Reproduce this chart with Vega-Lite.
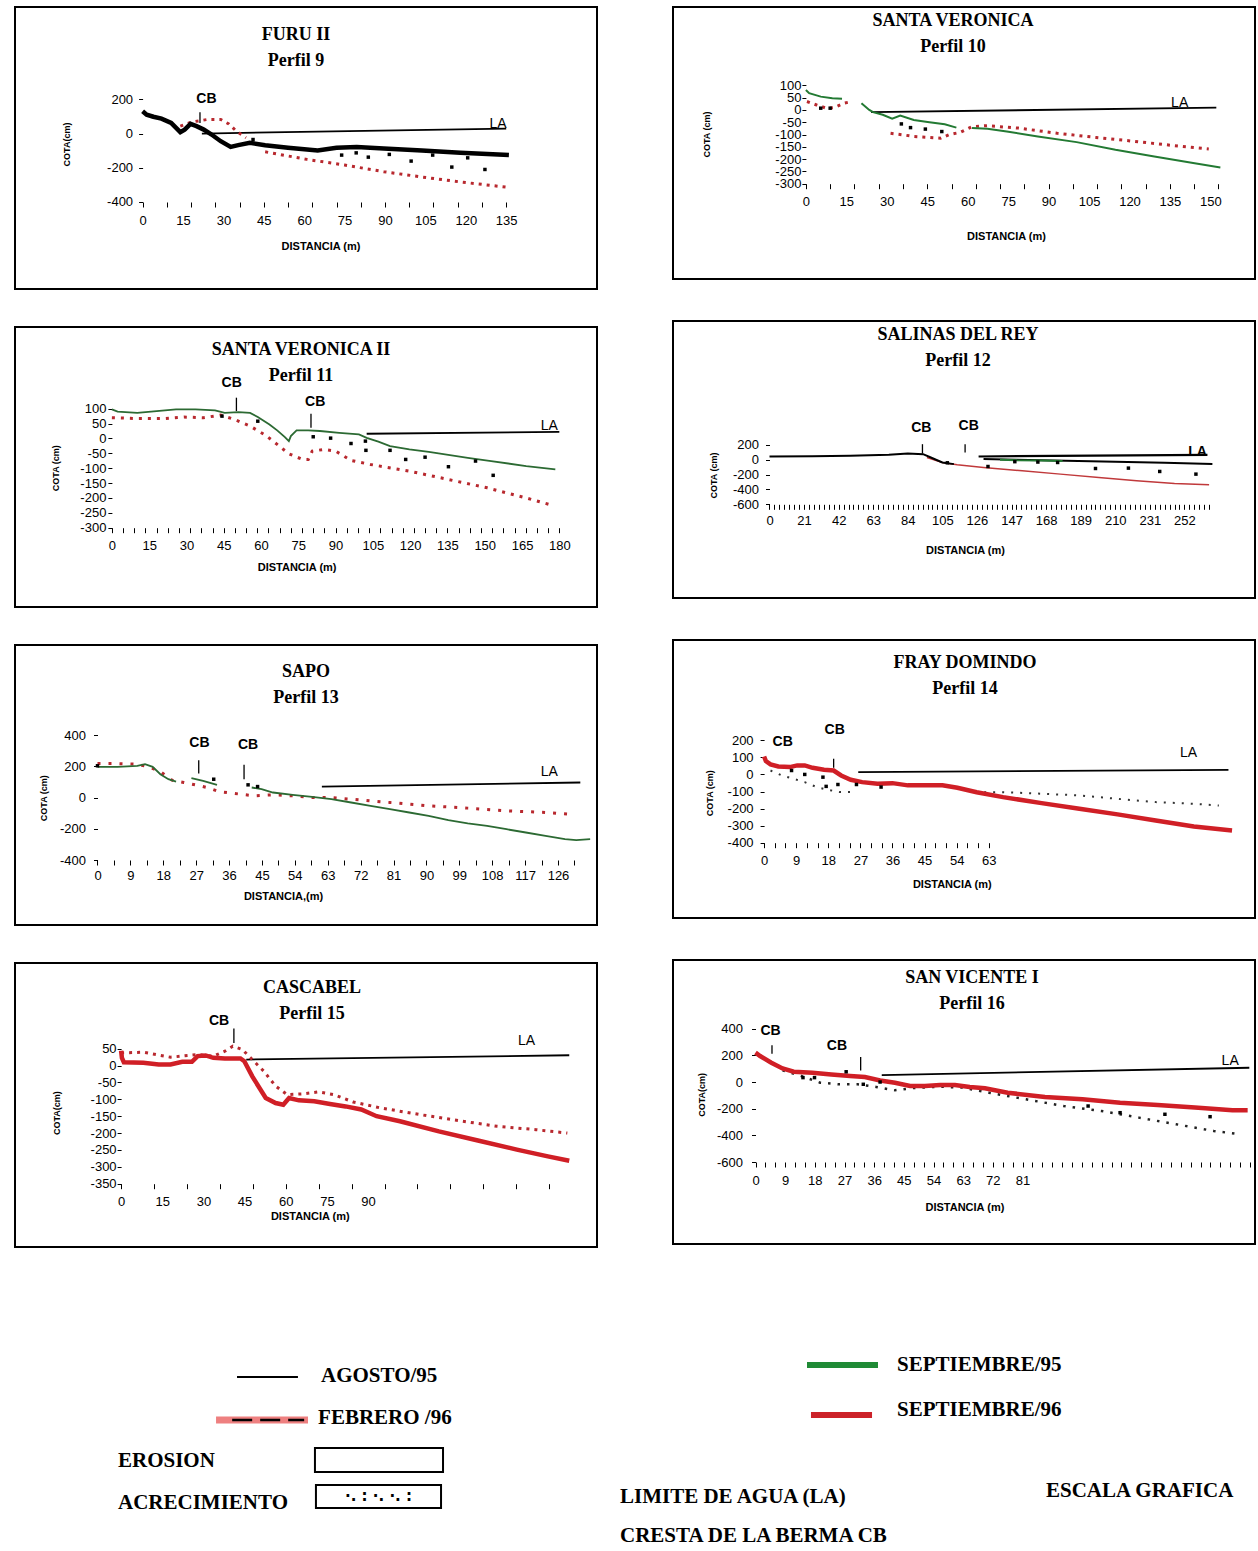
{
"$schema":"https://vega.github.io/schema/vega-lite/v6.json",
"background":"white",
"padding":{"left":14,"top":6,"right":0,"bottom":0},
"config":{
 "view":{"stroke":"black","strokeWidth":2},
 "axis":{"domain":false,"grid":false,"labelFont":"Liberation Sans","labelFontSize":13,"labelColor":"black","tickColor":"black","tickSize":5,"titleFont":"Liberation Sans","titleFontWeight":"bold","titleColor":"black","labelOverlap":false,"labelFlush":false,"labelBound":false,"titleBaseline":"middle","titleAlign":"center"},
 "axisX":{"labelPadding":7,"titleFontSize":11},
 "axisY":{"titleFontSize":9,"tickSize":4},
 "title":{"font":"Liberation Serif","fontSize":18,"fontWeight":"bold","color":"black","subtitleFont":"Liberation Serif","subtitleFontSize":18,"subtitleFontWeight":"bold","subtitleColor":"black","subtitlePadding":8,"anchor":"middle","frame":"group"}
},
"datasets":{
"p9":[
{"serie":"AGOSTO/95","tramo":1,"x":0,"y":130},{"serie":"AGOSTO/95","tramo":1,"x":1.5,"y":110},{"serie":"AGOSTO/95","tramo":1,"x":4,"y":98},{"serie":"AGOSTO/95","tramo":1,"x":7,"y":87},{"serie":"AGOSTO/95","tramo":1,"x":10.6,"y":62},{"serie":"AGOSTO/95","tramo":1,"x":14,"y":8},{"serie":"AGOSTO/95","tramo":1,"x":15.6,"y":23},{"serie":"AGOSTO/95","tramo":1,"x":17.8,"y":56},{"serie":"AGOSTO/95","tramo":1,"x":20,"y":43},{"serie":"AGOSTO/95","tramo":1,"x":22.7,"y":23},{"serie":"AGOSTO/95","tramo":1,"x":25.6,"y":-6},{"serie":"AGOSTO/95","tramo":1,"x":29,"y":-45},{"serie":"AGOSTO/95","tramo":1,"x":32.7,"y":-78},{"serie":"AGOSTO/95","tramo":1,"x":35.5,"y":-68},{"serie":"AGOSTO/95","tramo":1,"x":39.8,"y":-54},{"serie":"AGOSTO/95","tramo":1,"x":45.5,"y":-68},{"serie":"AGOSTO/95","tramo":1,"x":54,"y":-83},{"serie":"AGOSTO/95","tramo":1,"x":65,"y":-99},{"serie":"AGOSTO/95","tramo":1,"x":72,"y":-83},{"serie":"AGOSTO/95","tramo":1,"x":79.5,"y":-78},{"serie":"AGOSTO/95","tramo":1,"x":89.5,"y":-87},{"serie":"AGOSTO/95","tramo":1,"x":103.7,"y":-99},{"serie":"AGOSTO/95","tramo":1,"x":118,"y":-113},{"serie":"AGOSTO/95","tramo":1,"x":136,"y":-126},
{"serie":"FEBRERO/96","tramo":1,"x":14,"y":43},{"serie":"FEBRERO/96","tramo":1,"x":18.5,"y":68},{"serie":"FEBRERO/96","tramo":1,"x":24,"y":82},{"serie":"FEBRERO/96","tramo":1,"x":29,"y":82},{"serie":"FEBRERO/96","tramo":1,"x":32,"y":56},{"serie":"FEBRERO/96","tramo":1,"x":34.8,"y":14},{"serie":"FEBRERO/96","tramo":1,"x":38.4,"y":-25},
{"serie":"FEBRERO/96","tramo":2,"x":45.5,"y":-107},{"serie":"FEBRERO/96","tramo":2,"x":61,"y":-151},{"serie":"FEBRERO/96","tramo":2,"x":75,"y":-184},{"serie":"FEBRERO/96","tramo":2,"x":89.5,"y":-223},{"serie":"FEBRERO/96","tramo":2,"x":103.7,"y":-254},{"serie":"FEBRERO/96","tramo":2,"x":118,"y":-283},{"serie":"FEBRERO/96","tramo":2,"x":135,"y":-313},
{"serie":"ACRECIMIENTO","x":41,"y":-35},{"serie":"ACRECIMIENTO","x":73.9,"y":-126},{"serie":"ACRECIMIENTO","x":79.3,"y":-113},{"serie":"ACRECIMIENTO","x":83.8,"y":-138},{"serie":"ACRECIMIENTO","x":91.6,"y":-122},{"serie":"ACRECIMIENTO","x":99.7,"y":-161},{"serie":"ACRECIMIENTO","x":107.7,"y":-126},{"serie":"ACRECIMIENTO","x":114.8,"y":-196},{"serie":"ACRECIMIENTO","x":120.7,"y":-142},{"serie":"ACRECIMIENTO","x":127.1,"y":-210},
{"serie":"LA","x":22,"y":0},{"serie":"LA","x":135,"y":29},
{"serie":"CB","x":21.3,"y":62,"y2":124},
{"serie":"rotulo","texto":"CB","x":23.7,"y":202},{"serie":"rotulo","texto":"LA","x":132,"y":56}
],
"p10":[
{"serie":"SEPTIEMBRE/95","tramo":1,"x":0,"y":81},{"serie":"SEPTIEMBRE/95","tramo":1,"x":1.2,"y":68},{"serie":"SEPTIEMBRE/95","tramo":1,"x":5.5,"y":54},{"serie":"SEPTIEMBRE/95","tramo":1,"x":9.8,"y":47},{"serie":"SEPTIEMBRE/95","tramo":1,"x":13.4,"y":45},
{"serie":"SEPTIEMBRE/95","tramo":2,"x":20.6,"y":27},{"serie":"SEPTIEMBRE/95","tramo":2,"x":23.5,"y":0},{"serie":"SEPTIEMBRE/95","tramo":2,"x":24.9,"y":-9},{"serie":"SEPTIEMBRE/95","tramo":2,"x":28.5,"y":-20},{"serie":"SEPTIEMBRE/95","tramo":2,"x":32,"y":-36},{"serie":"SEPTIEMBRE/95","tramo":2,"x":35,"y":-23},{"serie":"SEPTIEMBRE/95","tramo":2,"x":40,"y":-41},{"serie":"SEPTIEMBRE/95","tramo":2,"x":45.8,"y":-50},{"serie":"SEPTIEMBRE/95","tramo":2,"x":51.5,"y":-58},{"serie":"SEPTIEMBRE/95","tramo":2,"x":55.8,"y":-72},
{"serie":"SEPTIEMBRE/95","tramo":3,"x":61.6,"y":-74},{"serie":"SEPTIEMBRE/95","tramo":3,"x":67.3,"y":-77},{"serie":"SEPTIEMBRE/95","tramo":3,"x":74.5,"y":-88},{"serie":"SEPTIEMBRE/95","tramo":3,"x":86,"y":-108},{"serie":"SEPTIEMBRE/95","tramo":3,"x":100.4,"y":-131},{"serie":"SEPTIEMBRE/95","tramo":3,"x":114.8,"y":-162},{"serie":"SEPTIEMBRE/95","tramo":3,"x":129.2,"y":-189},{"serie":"SEPTIEMBRE/95","tramo":3,"x":143.6,"y":-216},{"serie":"SEPTIEMBRE/95","tramo":3,"x":153.7,"y":-234},
{"serie":"FEBRERO/96","tramo":1,"x":0.4,"y":34},{"serie":"FEBRERO/96","tramo":1,"x":4,"y":20},{"serie":"FEBRERO/96","tramo":1,"x":7.6,"y":7},{"serie":"FEBRERO/96","tramo":1,"x":10.5,"y":9},{"serie":"FEBRERO/96","tramo":1,"x":14.1,"y":27},{"serie":"FEBRERO/96","tramo":1,"x":17,"y":34},
{"serie":"FEBRERO/96","tramo":2,"x":31.4,"y":-95},{"serie":"FEBRERO/96","tramo":2,"x":35.7,"y":-101},{"serie":"FEBRERO/96","tramo":2,"x":40,"y":-108},{"serie":"FEBRERO/96","tramo":2,"x":45.8,"y":-112},{"serie":"FEBRERO/96","tramo":2,"x":50,"y":-115},{"serie":"FEBRERO/96","tramo":2,"x":53,"y":-101},{"serie":"FEBRERO/96","tramo":2,"x":57.3,"y":-91},{"serie":"FEBRERO/96","tramo":2,"x":61.6,"y":-68},{"serie":"FEBRERO/96","tramo":2,"x":67.3,"y":-64},{"serie":"FEBRERO/96","tramo":2,"x":78.8,"y":-74},{"serie":"FEBRERO/96","tramo":2,"x":93.2,"y":-95},{"serie":"FEBRERO/96","tramo":2,"x":107.6,"y":-112},{"serie":"FEBRERO/96","tramo":2,"x":122,"y":-128},{"serie":"FEBRERO/96","tramo":2,"x":136.4,"y":-145},{"serie":"FEBRERO/96","tramo":2,"x":149.4,"y":-159},
{"serie":"ACRECIMIENTO","x":5.5,"y":7},{"serie":"ACRECIMIENTO","x":9,"y":7},{"serie":"ACRECIMIENTO","x":35.4,"y":-57},{"serie":"ACRECIMIENTO","x":38.8,"y":-72},{"serie":"ACRECIMIENTO","x":44.3,"y":-78},{"serie":"ACRECIMIENTO","x":50.4,"y":-88},
{"serie":"LA","x":24.2,"y":-9},{"serie":"LA","x":152.2,"y":9},
{"serie":"rotulo","texto":"LA","x":138.6,"y":29.7}
],
"p11":[
{"serie":"SEPTIEMBRE/95","tramo":1,"x":0,"y":97.5},{"serie":"SEPTIEMBRE/95","tramo":1,"x":2.3,"y":90},{"serie":"SEPTIEMBRE/95","tramo":1,"x":10.2,"y":86},{"serie":"SEPTIEMBRE/95","tramo":1,"x":18,"y":92},{"serie":"SEPTIEMBRE/95","tramo":1,"x":25.8,"y":97.5},{"serie":"SEPTIEMBRE/95","tramo":1,"x":33.6,"y":97.5},{"serie":"SEPTIEMBRE/95","tramo":1,"x":41.5,"y":94},{"serie":"SEPTIEMBRE/95","tramo":1,"x":45.4,"y":86},{"serie":"SEPTIEMBRE/95","tramo":1,"x":50.9,"y":88.6},{"serie":"SEPTIEMBRE/95","tramo":1,"x":55.6,"y":86},{"serie":"SEPTIEMBRE/95","tramo":1,"x":58.7,"y":72},{"serie":"SEPTIEMBRE/95","tramo":1,"x":63.4,"y":47},{"serie":"SEPTIEMBRE/95","tramo":1,"x":66.5,"y":27},{"serie":"SEPTIEMBRE/95","tramo":1,"x":69.6,"y":4.5},{"serie":"SEPTIEMBRE/95","tramo":1,"x":71.2,"y":-9},{"serie":"SEPTIEMBRE/95","tramo":1,"x":72,"y":8},{"serie":"SEPTIEMBRE/95","tramo":1,"x":74.3,"y":27},{"serie":"SEPTIEMBRE/95","tramo":1,"x":79,"y":27},{"serie":"SEPTIEMBRE/95","tramo":1,"x":83.7,"y":25},{"serie":"SEPTIEMBRE/95","tramo":1,"x":91.5,"y":19},{"serie":"SEPTIEMBRE/95","tramo":1,"x":99.4,"y":13.5},{"serie":"SEPTIEMBRE/95","tramo":1,"x":102.5,"y":2},{"serie":"SEPTIEMBRE/95","tramo":1,"x":107.2,"y":-11},{"serie":"SEPTIEMBRE/95","tramo":1,"x":111.9,"y":-26},{"serie":"SEPTIEMBRE/95","tramo":1,"x":119.7,"y":-37},{"serie":"SEPTIEMBRE/95","tramo":1,"x":127.5,"y":-45},{"serie":"SEPTIEMBRE/95","tramo":1,"x":143.2,"y":-65},{"serie":"SEPTIEMBRE/95","tramo":1,"x":152.6,"y":-76},{"serie":"SEPTIEMBRE/95","tramo":1,"x":166.7,"y":-93},{"serie":"SEPTIEMBRE/95","tramo":1,"x":178.4,"y":-104},
{"serie":"FEBRERO/96","tramo":1,"x":0,"y":69.5},{"serie":"FEBRERO/96","tramo":1,"x":10.2,"y":67},{"serie":"FEBRERO/96","tramo":1,"x":21.1,"y":67},{"serie":"FEBRERO/96","tramo":1,"x":29,"y":72},{"serie":"FEBRERO/96","tramo":1,"x":36.8,"y":69.5},{"serie":"FEBRERO/96","tramo":1,"x":43.8,"y":78.5},{"serie":"FEBRERO/96","tramo":1,"x":49.3,"y":64},{"serie":"FEBRERO/96","tramo":1,"x":55.6,"y":41.5},{"serie":"FEBRERO/96","tramo":1,"x":61.8,"y":11},{"serie":"FEBRERO/96","tramo":1,"x":66.5,"y":-20},{"serie":"FEBRERO/96","tramo":1,"x":71.2,"y":-51.6},{"serie":"FEBRERO/96","tramo":1,"x":76.7,"y":-70.6},{"serie":"FEBRERO/96","tramo":1,"x":79,"y":-70.6},{"serie":"FEBRERO/96","tramo":1,"x":80.6,"y":-42.6},{"serie":"FEBRERO/96","tramo":1,"x":85.3,"y":-37},{"serie":"FEBRERO/96","tramo":1,"x":90,"y":-42.6},{"serie":"FEBRERO/96","tramo":1,"x":96.2,"y":-74},{"serie":"FEBRERO/96","tramo":1,"x":104,"y":-87.4},{"serie":"FEBRERO/96","tramo":1,"x":119.7,"y":-110},{"serie":"FEBRERO/96","tramo":1,"x":135.4,"y":-138},{"serie":"FEBRERO/96","tramo":1,"x":151,"y":-166},{"serie":"FEBRERO/96","tramo":1,"x":166.7,"y":-200},{"serie":"FEBRERO/96","tramo":1,"x":176,"y":-222},
{"serie":"ACRECIMIENTO","x":44.3,"y":75},{"serie":"ACRECIMIENTO","x":58.7,"y":58},{"serie":"ACRECIMIENTO","x":81,"y":5.6},{"serie":"ACRECIMIENTO","x":88,"y":1},{"serie":"ACRECIMIENTO","x":96.2,"y":-17},{"serie":"ACRECIMIENTO","x":102,"y":-9},{"serie":"ACRECIMIENTO","x":102.2,"y":-40},{"serie":"ACRECIMIENTO","x":111.9,"y":-40},{"serie":"ACRECIMIENTO","x":118.2,"y":-70.6},{"serie":"ACRECIMIENTO","x":126,"y":-63},{"serie":"ACRECIMIENTO","x":135.4,"y":-95},{"serie":"ACRECIMIENTO","x":146.3,"y":-76},{"serie":"ACRECIMIENTO","x":153.4,"y":-124},
{"serie":"LA","x":102.5,"y":15.7},{"serie":"LA","x":180,"y":22.4},
{"serie":"CB","x":50.1,"y":92,"y2":137},{"serie":"CB","x":80.1,"y":36,"y2":83},
{"serie":"rotulo","texto":"CB","x":48.2,"y":187},{"serie":"rotulo","texto":"CB","x":81.8,"y":123},{"serie":"rotulo","texto":"LA","x":176,"y":41.5}
],
"p12":[
{"serie":"AGOSTO/95","tramo":1,"x":0,"y":45},{"serie":"AGOSTO/95","tramo":1,"x":26,"y":49},{"serie":"AGOSTO/95","tramo":1,"x":49,"y":54},{"serie":"AGOSTO/95","tramo":1,"x":72.5,"y":67},{"serie":"AGOSTO/95","tramo":1,"x":84,"y":85},{"serie":"AGOSTO/95","tramo":1,"x":93.3,"y":76},{"serie":"AGOSTO/95","tramo":1,"x":98,"y":31},{"serie":"AGOSTO/95","tramo":1,"x":105,"y":-36},{"serie":"AGOSTO/95","tramo":1,"x":112,"y":-58},
{"serie":"AGOSTO/95","tramo":2,"x":130,"y":10},{"serie":"AGOSTO/95","tramo":2,"x":150,"y":0},{"serie":"AGOSTO/95","tramo":2,"x":180,"y":-13},{"serie":"AGOSTO/95","tramo":2,"x":210,"y":-25},{"serie":"AGOSTO/95","tramo":2,"x":240,"y":-40},{"serie":"AGOSTO/95","tramo":2,"x":269,"y":-58},
{"serie":"FEBRERO/96","tramo":1,"x":95.6,"y":31},{"serie":"FEBRERO/96","tramo":1,"x":105,"y":-36},{"serie":"FEBRERO/96","tramo":1,"x":114,"y":-67},{"serie":"FEBRERO/96","tramo":1,"x":130,"y":-103},{"serie":"FEBRERO/96","tramo":1,"x":153.5,"y":-148},{"serie":"FEBRERO/96","tramo":1,"x":176.7,"y":-193},{"serie":"FEBRERO/96","tramo":1,"x":200,"y":-238},{"serie":"FEBRERO/96","tramo":1,"x":223,"y":-283},{"serie":"FEBRERO/96","tramo":1,"x":246,"y":-319},{"serie":"FEBRERO/96","tramo":1,"x":267,"y":-337},
{"serie":"SEPTIEMBRE/95","tramo":1,"x":140,"y":2},{"serie":"SEPTIEMBRE/95","tramo":1,"x":150,"y":-5},{"serie":"SEPTIEMBRE/95","tramo":1,"x":165,"y":-8},{"serie":"SEPTIEMBRE/95","tramo":1,"x":178,"y":-15},
{"serie":"ACRECIMIENTO","x":108,"y":-40},{"serie":"ACRECIMIENTO","x":132.7,"y":-90},{"serie":"ACRECIMIENTO","x":149,"y":-25},{"serie":"ACRECIMIENTO","x":163,"y":-30},{"serie":"ACRECIMIENTO","x":175,"y":-36},{"serie":"ACRECIMIENTO","x":198,"y":-117},{"serie":"ACRECIMIENTO","x":218,"y":-112},{"serie":"ACRECIMIENTO","x":237,"y":-157},{"serie":"ACRECIMIENTO","x":259,"y":-193},
{"serie":"LA","x":127,"y":45},{"serie":"LA","x":266,"y":67},
{"serie":"CB","x":92.9,"y":85,"y2":211},{"serie":"CB","x":118.8,"y":99,"y2":211},
{"serie":"rotulo","texto":"CB","x":92.2,"y":436},{"serie":"rotulo","texto":"CB","x":121,"y":458},{"serie":"rotulo","texto":"LA","x":260,"y":99}
],
"p13":[
{"serie":"SEPTIEMBRE/95","tramo":1,"x":0,"y":196},{"serie":"SEPTIEMBRE/95","tramo":1,"x":5.5,"y":196},{"serie":"SEPTIEMBRE/95","tramo":1,"x":10.9,"y":203},{"serie":"SEPTIEMBRE/95","tramo":1,"x":13,"y":213},{"serie":"SEPTIEMBRE/95","tramo":1,"x":15.1,"y":196},{"serie":"SEPTIEMBRE/95","tramo":1,"x":17.2,"y":149},{"serie":"SEPTIEMBRE/95","tramo":1,"x":19.4,"y":117},{"serie":"SEPTIEMBRE/95","tramo":1,"x":21.5,"y":102},
{"serie":"SEPTIEMBRE/95","tramo":2,"x":25.7,"y":124},{"serie":"SEPTIEMBRE/95","tramo":2,"x":28.9,"y":107},{"serie":"SEPTIEMBRE/95","tramo":2,"x":32.7,"y":81},
{"serie":"SEPTIEMBRE/95","tramo":3,"x":42.2,"y":64},{"serie":"SEPTIEMBRE/95","tramo":3,"x":44.9,"y":53},{"serie":"SEPTIEMBRE/95","tramo":3,"x":48,"y":32},{"serie":"SEPTIEMBRE/95","tramo":3,"x":53.4,"y":17},{"serie":"SEPTIEMBRE/95","tramo":3,"x":58.7,"y":4},{"serie":"SEPTIEMBRE/95","tramo":3,"x":64,"y":-11},{"serie":"SEPTIEMBRE/95","tramo":3,"x":69.4,"y":-32},{"serie":"SEPTIEMBRE/95","tramo":3,"x":74.7,"y":-53},{"serie":"SEPTIEMBRE/95","tramo":3,"x":80,"y":-75},{"serie":"SEPTIEMBRE/95","tramo":3,"x":85.3,"y":-96},{"serie":"SEPTIEMBRE/95","tramo":3,"x":90.6,"y":-117},{"serie":"SEPTIEMBRE/95","tramo":3,"x":96,"y":-145},{"serie":"SEPTIEMBRE/95","tramo":3,"x":101.3,"y":-166},{"serie":"SEPTIEMBRE/95","tramo":3,"x":106.6,"y":-181},{"serie":"SEPTIEMBRE/95","tramo":3,"x":111.9,"y":-203},{"serie":"SEPTIEMBRE/95","tramo":3,"x":117.2,"y":-224},{"serie":"SEPTIEMBRE/95","tramo":3,"x":122.6,"y":-245},{"serie":"SEPTIEMBRE/95","tramo":3,"x":127.9,"y":-267},{"serie":"SEPTIEMBRE/95","tramo":3,"x":131,"y":-273},{"serie":"SEPTIEMBRE/95","tramo":3,"x":134.8,"y":-267},
{"serie":"FEBRERO/96","tramo":1,"x":0,"y":217},{"serie":"FEBRERO/96","tramo":1,"x":5.5,"y":217},{"serie":"FEBRERO/96","tramo":1,"x":10.9,"y":213},{"serie":"FEBRERO/96","tramo":1,"x":14,"y":196},{"serie":"FEBRERO/96","tramo":1,"x":17.2,"y":166},{"serie":"FEBRERO/96","tramo":1,"x":20.4,"y":111},{"serie":"FEBRERO/96","tramo":1,"x":23.6,"y":96},{"serie":"FEBRERO/96","tramo":1,"x":26.8,"y":81},{"serie":"FEBRERO/96","tramo":1,"x":30,"y":64},{"serie":"FEBRERO/96","tramo":1,"x":33.2,"y":38},{"serie":"FEBRERO/96","tramo":1,"x":37.4,"y":26},{"serie":"FEBRERO/96","tramo":1,"x":42.8,"y":11},{"serie":"FEBRERO/96","tramo":1,"x":48,"y":17},{"serie":"FEBRERO/96","tramo":1,"x":53.4,"y":11},{"serie":"FEBRERO/96","tramo":1,"x":58.7,"y":0},{"serie":"FEBRERO/96","tramo":1,"x":64,"y":0},{"serie":"FEBRERO/96","tramo":1,"x":69.4,"y":-11},{"serie":"FEBRERO/96","tramo":1,"x":80,"y":-32},{"serie":"FEBRERO/96","tramo":1,"x":90.6,"y":-53},{"serie":"FEBRERO/96","tramo":1,"x":101.3,"y":-68},{"serie":"FEBRERO/96","tramo":1,"x":111.9,"y":-85},{"serie":"FEBRERO/96","tramo":1,"x":122.6,"y":-96},{"serie":"FEBRERO/96","tramo":1,"x":129,"y":-107},
{"serie":"ACRECIMIENTO","x":0,"y":203},{"serie":"ACRECIMIENTO","x":31.8,"y":117},{"serie":"ACRECIMIENTO","x":41.2,"y":81},{"serie":"ACRECIMIENTO","x":43.8,"y":70},
{"serie":"LA","x":61.4,"y":70},{"serie":"LA","x":132.1,"y":96},
{"serie":"CB","x":27.7,"y":153.5,"y2":239},{"serie":"CB","x":40.1,"y":117,"y2":209},
{"serie":"rotulo","texto":"CB","x":27.9,"y":352},{"serie":"rotulo","texto":"CB","x":41.2,"y":337},{"serie":"rotulo","texto":"LA","x":123.6,"y":166}
],
"p14":[
{"serie":"SEPTIEMBRE/96","tramo":1,"x":0,"y":105},{"serie":"SEPTIEMBRE/96","tramo":1,"x":0.5,"y":78},{"serie":"SEPTIEMBRE/96","tramo":1,"x":1.8,"y":59},{"serie":"SEPTIEMBRE/96","tramo":1,"x":4,"y":47},{"serie":"SEPTIEMBRE/96","tramo":1,"x":7.2,"y":43},{"serie":"SEPTIEMBRE/96","tramo":1,"x":9.3,"y":53},{"serie":"SEPTIEMBRE/96","tramo":1,"x":11.4,"y":53},{"serie":"SEPTIEMBRE/96","tramo":1,"x":13.6,"y":39},{"serie":"SEPTIEMBRE/96","tramo":1,"x":16.8,"y":27},{"serie":"SEPTIEMBRE/96","tramo":1,"x":19.5,"y":23},{"serie":"SEPTIEMBRE/96","tramo":1,"x":21.6,"y":-6},{"serie":"SEPTIEMBRE/96","tramo":1,"x":24.3,"y":-31},{"serie":"SEPTIEMBRE/96","tramo":1,"x":27.5,"y":-45},{"serie":"SEPTIEMBRE/96","tramo":1,"x":31.8,"y":-55},{"serie":"SEPTIEMBRE/96","tramo":1,"x":36,"y":-51},{"serie":"SEPTIEMBRE/96","tramo":1,"x":40.3,"y":-64},{"serie":"SEPTIEMBRE/96","tramo":1,"x":45.7,"y":-64},{"serie":"SEPTIEMBRE/96","tramo":1,"x":50,"y":-64},{"serie":"SEPTIEMBRE/96","tramo":1,"x":54.2,"y":-78},{"serie":"SEPTIEMBRE/96","tramo":1,"x":59.6,"y":-104},{"serie":"SEPTIEMBRE/96","tramo":1,"x":67,"y":-133},{"serie":"SEPTIEMBRE/96","tramo":1,"x":77.8,"y":-168},{"serie":"SEPTIEMBRE/96","tramo":1,"x":88.4,"y":-201},{"serie":"SEPTIEMBRE/96","tramo":1,"x":99.1,"y":-234},{"serie":"SEPTIEMBRE/96","tramo":1,"x":109.8,"y":-270},{"serie":"SEPTIEMBRE/96","tramo":1,"x":120.5,"y":-305},{"serie":"SEPTIEMBRE/96","tramo":1,"x":131.2,"y":-328},
{"serie":"FEBRERO/96","tramo":1,"x":1.8,"y":23},{"serie":"FEBRERO/96","tramo":1,"x":5,"y":-6},{"serie":"FEBRERO/96","tramo":1,"x":11.4,"y":-45},{"serie":"FEBRERO/96","tramo":1,"x":14.7,"y":-74},{"serie":"FEBRERO/96","tramo":1,"x":17.9,"y":-90},{"serie":"FEBRERO/96","tramo":1,"x":21.1,"y":-103},{"serie":"FEBRERO/96","tramo":1,"x":24.3,"y":-103},
{"serie":"FEBRERO/96","tramo":2,"x":61.7,"y":-104},{"serie":"FEBRERO/96","tramo":2,"x":67,"y":-104},{"serie":"FEBRERO/96","tramo":2,"x":77.8,"y":-113},{"serie":"FEBRERO/96","tramo":2,"x":88.4,"y":-123},{"serie":"FEBRERO/96","tramo":2,"x":99.1,"y":-143},{"serie":"FEBRERO/96","tramo":2,"x":109.8,"y":-162},{"serie":"FEBRERO/96","tramo":2,"x":120.5,"y":-172},{"serie":"FEBRERO/96","tramo":2,"x":127.5,"y":-182},
{"serie":"ACRECIMIENTO","x":7.7,"y":23},{"serie":"ACRECIMIENTO","x":11.4,"y":0},{"serie":"ACRECIMIENTO","x":16.5,"y":-16},{"serie":"ACRECIMIENTO","x":17.4,"y":-70},{"serie":"ACRECIMIENTO","x":20.7,"y":-59},{"serie":"ACRECIMIENTO","x":25.9,"y":-59},{"serie":"ACRECIMIENTO","x":32.8,"y":-74},
{"serie":"LA","x":26.4,"y":14},{"serie":"LA","x":130.2,"y":27},
{"serie":"CB","x":19.5,"y":39,"y2":92},
{"serie":"rotulo","texto":"CB","x":5.2,"y":191},{"serie":"rotulo","texto":"CB","x":19.8,"y":258},{"serie":"rotulo","texto":"LA","x":119,"y":125}
],
"p15":[
{"serie":"SEPTIEMBRE/96","tramo":1,"x":0,"y":44},{"serie":"SEPTIEMBRE/96","tramo":1,"x":0.3,"y":23},{"serie":"SEPTIEMBRE/96","tramo":1,"x":1,"y":10},{"serie":"SEPTIEMBRE/96","tramo":1,"x":8.1,"y":8},{"serie":"SEPTIEMBRE/96","tramo":1,"x":13.7,"y":3},{"serie":"SEPTIEMBRE/96","tramo":1,"x":18,"y":3},{"serie":"SEPTIEMBRE/96","tramo":1,"x":22.3,"y":11},{"serie":"SEPTIEMBRE/96","tramo":1,"x":25.8,"y":11},{"serie":"SEPTIEMBRE/96","tramo":1,"x":27.9,"y":28},{"serie":"SEPTIEMBRE/96","tramo":1,"x":30.8,"y":30},{"serie":"SEPTIEMBRE/96","tramo":1,"x":33.6,"y":23},{"serie":"SEPTIEMBRE/96","tramo":1,"x":37.8,"y":21},{"serie":"SEPTIEMBRE/96","tramo":1,"x":43.5,"y":21},{"serie":"SEPTIEMBRE/96","tramo":1,"x":44.9,"y":13},{"serie":"SEPTIEMBRE/96","tramo":1,"x":47.8,"y":-32},{"serie":"SEPTIEMBRE/96","tramo":1,"x":52.7,"y":-96},{"serie":"SEPTIEMBRE/96","tramo":1,"x":56.3,"y":-111},{"serie":"SEPTIEMBRE/96","tramo":1,"x":59.1,"y":-116},{"serie":"SEPTIEMBRE/96","tramo":1,"x":61.2,"y":-96},{"serie":"SEPTIEMBRE/96","tramo":1,"x":64.8,"y":-103},{"serie":"SEPTIEMBRE/96","tramo":1,"x":70.4,"y":-106},{"serie":"SEPTIEMBRE/96","tramo":1,"x":76.1,"y":-114},{"serie":"SEPTIEMBRE/96","tramo":1,"x":81.8,"y":-121},{"serie":"SEPTIEMBRE/96","tramo":1,"x":87.5,"y":-130},{"serie":"SEPTIEMBRE/96","tramo":1,"x":93.1,"y":-150},{"serie":"SEPTIEMBRE/96","tramo":1,"x":101.6,"y":-165},{"serie":"SEPTIEMBRE/96","tramo":1,"x":115.8,"y":-195},{"serie":"SEPTIEMBRE/96","tramo":1,"x":130,"y":-222},{"serie":"SEPTIEMBRE/96","tramo":1,"x":144.2,"y":-249},{"serie":"SEPTIEMBRE/96","tramo":1,"x":155.5,"y":-269},{"serie":"SEPTIEMBRE/96","tramo":1,"x":163.3,"y":-282},
{"serie":"FEBRERO/96","tramo":1,"x":0,"y":37.5},{"serie":"FEBRERO/96","tramo":1,"x":8.1,"y":39.5},{"serie":"FEBRERO/96","tramo":1,"x":18,"y":24.7},{"serie":"FEBRERO/96","tramo":1,"x":27.9,"y":32.6},{"serie":"FEBRERO/96","tramo":1,"x":33.6,"y":27.7},{"serie":"FEBRERO/96","tramo":1,"x":37.8,"y":42.5},{"serie":"FEBRERO/96","tramo":1,"x":40.7,"y":57.3},{"serie":"FEBRERO/96","tramo":1,"x":44.2,"y":47.4},{"serie":"FEBRERO/96","tramo":1,"x":47.8,"y":17.8},{"serie":"FEBRERO/96","tramo":1,"x":52,"y":-16.8},{"serie":"FEBRERO/96","tramo":1,"x":56.3,"y":-61},{"serie":"FEBRERO/96","tramo":1,"x":60.5,"y":-86},{"serie":"FEBRERO/96","tramo":1,"x":66.2,"y":-84},{"serie":"FEBRERO/96","tramo":1,"x":71.9,"y":-78},{"serie":"FEBRERO/96","tramo":1,"x":77.5,"y":-86},{"serie":"FEBRERO/96","tramo":1,"x":84.6,"y":-108},{"serie":"FEBRERO/96","tramo":1,"x":94.5,"y":-125.5},{"serie":"FEBRERO/96","tramo":1,"x":108.7,"y":-145},{"serie":"FEBRERO/96","tramo":1,"x":122.9,"y":-163},{"serie":"FEBRERO/96","tramo":1,"x":137,"y":-180},{"serie":"FEBRERO/96","tramo":1,"x":151.2,"y":-190},{"serie":"FEBRERO/96","tramo":1,"x":162.6,"y":-200},
{"serie":"LA","x":45.6,"y":17.8},{"serie":"LA","x":163.3,"y":30.6},
{"serie":"CB","x":41.1,"y":67,"y2":110},
{"serie":"rotulo","texto":"CB","x":35.7,"y":133},{"serie":"rotulo","texto":"LA","x":147.7,"y":74}
],
"p16":[
{"serie":"SEPTIEMBRE/96","tramo":1,"x":0,"y":220},{"serie":"SEPTIEMBRE/96","tramo":1,"x":1.4,"y":195},{"serie":"SEPTIEMBRE/96","tramo":1,"x":4.8,"y":145},{"serie":"SEPTIEMBRE/96","tramo":1,"x":8.2,"y":102},{"serie":"SEPTIEMBRE/96","tramo":1,"x":11.6,"y":77},{"serie":"SEPTIEMBRE/96","tramo":1,"x":17.3,"y":70},{"serie":"SEPTIEMBRE/96","tramo":1,"x":23,"y":57},{"serie":"SEPTIEMBRE/96","tramo":1,"x":28.7,"y":45},{"serie":"SEPTIEMBRE/96","tramo":1,"x":33.2,"y":37},{"serie":"SEPTIEMBRE/96","tramo":1,"x":37.8,"y":12},{"serie":"SEPTIEMBRE/96","tramo":1,"x":42.3,"y":-5},{"serie":"SEPTIEMBRE/96","tramo":1,"x":46.9,"y":-30},{"serie":"SEPTIEMBRE/96","tramo":1,"x":51.4,"y":-30},{"serie":"SEPTIEMBRE/96","tramo":1,"x":56,"y":-22},{"serie":"SEPTIEMBRE/96","tramo":1,"x":60.5,"y":-22},{"serie":"SEPTIEMBRE/96","tramo":1,"x":65,"y":-37},{"serie":"SEPTIEMBRE/96","tramo":1,"x":69.6,"y":-47},{"serie":"SEPTIEMBRE/96","tramo":1,"x":76.5,"y":-80},{"serie":"SEPTIEMBRE/96","tramo":1,"x":87.8,"y":-112},{"serie":"SEPTIEMBRE/96","tramo":1,"x":99.2,"y":-130},{"serie":"SEPTIEMBRE/96","tramo":1,"x":110.6,"y":-155},{"serie":"SEPTIEMBRE/96","tramo":1,"x":122,"y":-172},{"serie":"SEPTIEMBRE/96","tramo":1,"x":133.3,"y":-192},{"serie":"SEPTIEMBRE/96","tramo":1,"x":144.7,"y":-212},{"serie":"SEPTIEMBRE/96","tramo":1,"x":149.3,"y":-212},
{"serie":"FEBRERO/96","tramo":1,"x":8.2,"y":87},{"serie":"FEBRERO/96","tramo":1,"x":13.9,"y":45},{"serie":"FEBRERO/96","tramo":1,"x":19.6,"y":-5},{"serie":"FEBRERO/96","tramo":1,"x":25.3,"y":-17},{"serie":"FEBRERO/96","tramo":1,"x":30.9,"y":-17},{"serie":"FEBRERO/96","tramo":1,"x":36.6,"y":-37},{"serie":"FEBRERO/96","tramo":1,"x":42.3,"y":-62},{"serie":"FEBRERO/96","tramo":1,"x":48,"y":-45},{"serie":"FEBRERO/96","tramo":1,"x":56,"y":-35},{"serie":"FEBRERO/96","tramo":1,"x":62.8,"y":-42},{"serie":"FEBRERO/96","tramo":1,"x":70.8,"y":-80},{"serie":"FEBRERO/96","tramo":1,"x":82.1,"y":-130},{"serie":"FEBRERO/96","tramo":1,"x":93.5,"y":-180},{"serie":"FEBRERO/96","tramo":1,"x":104.9,"y":-217},{"serie":"FEBRERO/96","tramo":1,"x":116.3,"y":-267},{"serie":"FEBRERO/96","tramo":1,"x":127.6,"y":-317},{"serie":"FEBRERO/96","tramo":1,"x":139,"y":-367},{"serie":"FEBRERO/96","tramo":1,"x":147,"y":-392},
{"serie":"ACRECIMIENTO","x":14.4,"y":33},{"serie":"ACRECIMIENTO","x":17.9,"y":33},{"serie":"ACRECIMIENTO","x":27.5,"y":77},{"serie":"ACRECIMIENTO","x":32.7,"y":-17},{"serie":"ACRECIMIENTO","x":37.8,"y":0},{"serie":"ACRECIMIENTO","x":100.9,"y":-180},{"serie":"ACRECIMIENTO","x":110.6,"y":-230},{"serie":"ACRECIMIENTO","x":124.2,"y":-242},{"serie":"ACRECIMIENTO","x":137.9,"y":-260},
{"serie":"LA","x":38.3,"y":52},{"serie":"LA","x":149.8,"y":107},
{"serie":"CB","x":5,"y":212,"y2":275},{"serie":"CB","x":31.9,"y":87,"y2":187},
{"serie":"rotulo","texto":"CB","x":4.55,"y":382},{"serie":"rotulo","texto":"CB","x":24.7,"y":270},{"serie":"rotulo","texto":"LA","x":144,"y":157}
]
},
"vconcat":[
{"hconcat":[
 {"vconcat":[
  {"width":582,"height":282,
   "title":{"text":"FURU  II","subtitle":"Perfil 9","offset":-62.5,"dx":-10},
   "data":{"name":"p9"},
   "encoding":{
    "x":{"field":"x","type":"quantitative","scale":{"domain":[-47.38,168.71],"nice":false,"zero":false},
     "axis":{"orient":"bottom","offset":-87,"values":[0,9,15,18,27,30,36,45,54,60,63,72,75,81,90,99,105,108,117,120,126,135],"labelExpr":"datum.value % 15 == 0 ? datum.label : ''","tickOpacity":{"condition":{"test":"datum.value % 9 != 0","value":0},"value":1},"title":"DISTANCIA (m)","titleX":305.5,"titleY":44}},
    "y":{"field":"y","type":"quantitative","scale":{"domain":[-908.3,739.2],"nice":false,"zero":false},
     "axis":{"orient":"left","offset":-127.6,"values":[-400,-200,0,200],"labelExpr":"(datum.value < 0 ? '-' : '') + abs(datum.value)","labelPadding":6,"title":"COTA(cm)","titleX":-76.6,"titleY":137}}
   },
   "layer":[
    {"data":{"values":[{}]},"mark":{"type":"rule","color":"black","strokeWidth":1.5},"encoding":{"x":{"datum":0,"type":"quantitative"},"y":{"datum":-400,"type":"quantitative"},"y2":{"datum":210}}},
    {"data":{"values":[{}]},"mark":{"type":"rule","color":"black","strokeWidth":1.5},"encoding":{"x":{"datum":0,"type":"quantitative"},"x2":{"datum":137},"y":{"datum":-400,"type":"quantitative"}}},
    {"transform":[{"filter":"datum.serie == 'LA'"}],"mark":{"type":"line","color":"black","strokeWidth":1.8}},
    {"transform":[{"filter":"datum.serie == 'FEBRERO/96'"}],"mark":{"type":"line","color":"#b8282e","strokeWidth":3,"strokeDash":[3,5]},"encoding":{"detail":{"field":"tramo"}}},
    {"transform":[{"filter":"datum.serie == 'AGOSTO/95'"}],"mark":{"type":"line","color":"black","strokeWidth":4.5},"encoding":{"detail":{"field":"tramo"}}},
    {"transform":[{"filter":"datum.serie == 'ACRECIMIENTO'"}],"mark":{"type":"square","color":"black","opacity":1,"size":12}},
    {"transform":[{"filter":"datum.serie == 'CB'"}],"mark":{"type":"rule","color":"black","strokeWidth":1.3},"encoding":{"y2":{"field":"y2"}}},
    {"transform":[{"filter":"datum.texto == 'CB'"}],"mark":{"type":"text","font":"Liberation Sans","fontSize":14,"fontWeight":"bold","color":"black"},"encoding":{"text":{"field":"texto"}}},
    {"transform":[{"filter":"datum.texto == 'LA'"}],"mark":{"type":"text","font":"Liberation Sans","fontSize":14,"color":"black"},"encoding":{"text":{"field":"texto"}}}
   ]},
  {"width":582,"height":280,
   "title":{"text":"SANTA  VERONICA II","subtitle":"Perfil  11","offset":-57.5,"dx":-5},
   "data":{"name":"p11"},
   "encoding":{
    "x":{"field":"x","type":"quantitative","scale":{"domain":[-38.98,195.17],"nice":false,"zero":false},
     "axis":{"orient":"bottom","offset":-79.3,"values":[0,4.5,9,13.5,15,18,22.5,27,30,31.5,36,40.5,45,49.5,54,58.5,60,63,67.5,72,75,76.5,81,85.5,90,94.5,99,103.5,105,108,112.5,117,120,121.5,126,130.5,135,139.5,144,148.5,150,153,157.5,162,165,166.5,171,175.5,180],"labelExpr":"datum.value % 15 == 0 ? datum.label : ''","tickOpacity":{"condition":{"test":"datum.value % 4.5 != 0","value":0},"value":1},"title":"DISTANCIA (m)","titleX":281.6,"titleY":39.3}},
    "y":{"field":"y","type":"quantitative","scale":{"domain":[-566.6,374.6],"nice":false,"zero":false},
     "axis":{"orient":"left","offset":-96.9,"values":[-300,-250,-200,-150,-100,-50,0,50,100],"labelExpr":"(datum.value < 0 ? '-' : '') + abs(datum.value)","labelPadding":2,"title":"COTA (cm)","titleX":-56.4,"titleY":140.7}}
   },
   "layer":[
    {"data":{"values":[{}]},"mark":{"type":"rule","color":"black","strokeWidth":1.5},"encoding":{"x":{"datum":0,"type":"quantitative"},"y":{"datum":-300,"type":"quantitative"},"y2":{"datum":105}}},
    {"data":{"values":[{}]},"mark":{"type":"rule","color":"black","strokeWidth":1.5},"encoding":{"x":{"datum":0,"type":"quantitative"},"x2":{"datum":180},"y":{"datum":-300,"type":"quantitative"}}},
    {"transform":[{"filter":"datum.serie == 'LA'"}],"mark":{"type":"line","color":"black","strokeWidth":1.8}},
    {"transform":[{"filter":"datum.serie == 'FEBRERO/96'"}],"mark":{"type":"line","color":"#b8282e","strokeWidth":3,"strokeDash":[3,6]},"encoding":{"detail":{"field":"tramo"}}},
    {"transform":[{"filter":"datum.serie == 'SEPTIEMBRE/95'"}],"mark":{"type":"line","color":"#2c6a33","strokeWidth":1.8},"encoding":{"detail":{"field":"tramo"}}},
    {"transform":[{"filter":"datum.serie == 'ACRECIMIENTO'"}],"mark":{"type":"square","color":"black","opacity":1,"size":12}},
    {"transform":[{"filter":"datum.serie == 'CB'"}],"mark":{"type":"rule","color":"black","strokeWidth":1.3},"encoding":{"y2":{"field":"y2"}}},
    {"transform":[{"filter":"datum.texto == 'CB'"}],"mark":{"type":"text","font":"Liberation Sans","fontSize":14,"fontWeight":"bold","color":"black"},"encoding":{"text":{"field":"texto"}}},
    {"transform":[{"filter":"datum.texto == 'LA'"}],"mark":{"type":"text","font":"Liberation Sans","fontSize":14,"color":"black"},"encoding":{"text":{"field":"texto"}}}
   ]},
  {"width":582,"height":280,
   "title":{"text":"SAPO","subtitle":"Perfil 13","offset":-61.5,"dx":0},
   "data":{"name":"p13"},
   "encoding":{
    "x":{"field":"x","type":"quantitative","scale":{"domain":[-22.57,136.67],"nice":false,"zero":false},
     "axis":{"orient":"bottom","offset":-65,"labelPadding":4,"values":[0,4.5,9,13.5,18,22.5,27,31.5,36,40.5,45,49.5,54,58.5,63,67.5,72,76.5,81,85.5,90,94.5,99,103.5,108,112.5,117,121.5,126,130.5],"labelExpr":"datum.value % 9 == 0 ? datum.label : ''","title":"DISTANCIA,(m)","titleX":268,"titleY":36}},
    "y":{"field":"y","type":"quantitative","scale":{"domain":[-816,976],"nice":false,"zero":false},
     "axis":{"orient":"left","offset":-82.5,"values":[-400,-200,0,200,400],"labelExpr":"(datum.value < 0 ? '-' : '') + abs(datum.value)","labelPadding":8,"title":"COTA (cm)","titleX":-54.5,"titleY":152.7}}
   },
   "layer":[
    {"data":{"values":[{}]},"mark":{"type":"rule","color":"black","strokeWidth":1.5},"encoding":{"x":{"datum":0,"type":"quantitative"},"y":{"datum":-400,"type":"quantitative"},"y2":{"datum":400}}},
    {"data":{"values":[{}]},"mark":{"type":"rule","color":"black","strokeWidth":1.5},"encoding":{"x":{"datum":0,"type":"quantitative"},"x2":{"datum":132},"y":{"datum":-400,"type":"quantitative"}}},
    {"transform":[{"filter":"datum.serie == 'LA'"}],"mark":{"type":"line","color":"black","strokeWidth":1.8}},
    {"transform":[{"filter":"datum.serie == 'FEBRERO/96'"}],"mark":{"type":"line","color":"#b8282e","strokeWidth":3,"strokeDash":[3,8]},"encoding":{"detail":{"field":"tramo"}}},
    {"transform":[{"filter":"datum.serie == 'SEPTIEMBRE/95'"}],"mark":{"type":"line","color":"#2c6a33","strokeWidth":1.8},"encoding":{"detail":{"field":"tramo"}}},
    {"transform":[{"filter":"datum.serie == 'ACRECIMIENTO'"}],"mark":{"type":"square","color":"black","opacity":1,"size":12}},
    {"transform":[{"filter":"datum.serie == 'CB'"}],"mark":{"type":"rule","color":"black","strokeWidth":1.3},"encoding":{"y2":{"field":"y2"}}},
    {"transform":[{"filter":"datum.texto == 'CB'"}],"mark":{"type":"text","font":"Liberation Sans","fontSize":14,"fontWeight":"bold","color":"black"},"encoding":{"text":{"field":"texto"}}},
    {"transform":[{"filter":"datum.texto == 'LA'"}],"mark":{"type":"text","font":"Liberation Sans","fontSize":14,"color":"black"},"encoding":{"text":{"field":"texto"}}}
   ]},
  {"width":582,"height":284,
   "title":{"text":"CASCABEL","subtitle":"Perfil  15","offset":-59.5,"dx":6},
   "data":{"name":"p15"},
   "encoding":{
    "x":{"field":"x","type":"quantitative","scale":{"domain":[-38.66,173.41],"nice":false,"zero":false},
     "axis":{"orient":"bottom","offset":-63.3,"values":[0,12,15,24,30,36,45,48,60,72,75,84,90,96,108,120,132,144,156],"labelExpr":"datum.value % 15 == 0 && datum.value <= 90 ? datum.label : ''","tickOpacity":{"condition":{"test":"datum.value % 12 != 0","value":0},"value":1},"title":"DISTANCIA (m)","titleX":294.8,"titleY":32.3}},
    "y":{"field":"y","type":"quantitative","scale":{"domain":[-537.6,303.9],"nice":false,"zero":false},
     "axis":{"orient":"left","offset":-106.1,"values":[-350,-300,-250,-200,-150,-100,-50,0,50],"labelExpr":"(datum.value < 0 ? '-' : '') + abs(datum.value)","labelPadding":1,"title":"COTA(cm)","titleX":-64.2,"titleY":149.7}}
   },
   "layer":[
    {"data":{"values":[{}]},"mark":{"type":"rule","color":"black","strokeWidth":1.5},"encoding":{"x":{"datum":0,"type":"quantitative"},"y":{"datum":-350,"type":"quantitative"},"y2":{"datum":75}}},
    {"data":{"values":[{}]},"mark":{"type":"rule","color":"black","strokeWidth":1.5},"encoding":{"x":{"datum":0,"type":"quantitative"},"x2":{"datum":164},"y":{"datum":-350,"type":"quantitative"}}},
    {"transform":[{"filter":"datum.serie == 'LA'"}],"mark":{"type":"line","color":"black","strokeWidth":1.8}},
    {"transform":[{"filter":"datum.serie == 'FEBRERO/96'"}],"mark":{"type":"line","color":"#b8282e","strokeWidth":3,"strokeDash":[3,5]},"encoding":{"detail":{"field":"tramo"}}},
    {"transform":[{"filter":"datum.serie == 'SEPTIEMBRE/96'"}],"mark":{"type":"line","color":"#d01f26","strokeWidth":4.5},"encoding":{"detail":{"field":"tramo"}}},
    {"transform":[{"filter":"datum.serie == 'CB'"}],"mark":{"type":"rule","color":"black","strokeWidth":1.3},"encoding":{"y2":{"field":"y2"}}},
    {"transform":[{"filter":"datum.texto == 'CB'"}],"mark":{"type":"text","font":"Liberation Sans","fontSize":14,"fontWeight":"bold","color":"black"},"encoding":{"text":{"field":"texto"}}},
    {"transform":[{"filter":"datum.texto == 'LA'"}],"mark":{"type":"text","font":"Liberation Sans","fontSize":14,"color":"black"},"encoding":{"text":{"field":"texto"}}}
   ]}
 ],"spacing":36},
 {"vconcat":[
  {"width":582,"height":272,
   "title":{"text":"SANTA  VERONICA","subtitle":"Perfil 10","offset":-48.5,"dx":-11},
   "data":{"name":"p10"},
   "encoding":{
    "x":{"field":"x","type":"quantitative","scale":{"domain":[-49.28,166.54],"nice":false,"zero":false},
     "axis":{"orient":"bottom","offset":-95.3,"values":[0,9,15,18,27,30,36,45,54,60,63,72,75,81,90,99,105,108,117,120,126,135,144,150,153],"labelExpr":"datum.value % 15 == 0 ? datum.label : ''","tickOpacity":{"condition":{"test":"datum.value % 9 != 0","value":0},"value":1},"title":"DISTANCIA (m)","titleX":333,"titleY":52.3}},
    "y":{"field":"y","type":"quantitative","scale":{"domain":[-687.4,418.3],"nice":false,"zero":false},
     "axis":{"orient":"left","offset":-132.9,"values":[-300,-250,-200,-150,-100,-50,0,50,100],"labelExpr":"(datum.value < 0 ? '-' : '') + abs(datum.value)","labelPadding":1,"title":"COTA (cm)","titleX":-99.9,"titleY":127}}
   },
   "layer":[
    {"data":{"values":[{}]},"mark":{"type":"rule","color":"black","strokeWidth":1.5},"encoding":{"x":{"datum":0,"type":"quantitative"},"y":{"datum":-300,"type":"quantitative"},"y2":{"datum":105}}},
    {"data":{"values":[{}]},"mark":{"type":"rule","color":"black","strokeWidth":1.5},"encoding":{"x":{"datum":0,"type":"quantitative"},"x2":{"datum":152.5},"y":{"datum":-300,"type":"quantitative"}}},
    {"transform":[{"filter":"datum.serie == 'LA'"}],"mark":{"type":"line","color":"black","strokeWidth":1.8}},
    {"transform":[{"filter":"datum.serie == 'FEBRERO/96'"}],"mark":{"type":"line","color":"#b8282e","strokeWidth":3,"strokeDash":[3,5]},"encoding":{"detail":{"field":"tramo"}}},
    {"transform":[{"filter":"datum.serie == 'SEPTIEMBRE/95'"}],"mark":{"type":"line","color":"#237a33","strokeWidth":2},"encoding":{"detail":{"field":"tramo"}}},
    {"transform":[{"filter":"datum.serie == 'ACRECIMIENTO'"}],"mark":{"type":"square","color":"black","opacity":1,"size":12}},
    {"transform":[{"filter":"datum.texto == 'LA'"}],"mark":{"type":"text","font":"Liberation Sans","fontSize":14,"color":"black"},"encoding":{"text":{"field":"texto"}}}
   ]},
  {"width":582,"height":277,
   "title":{"text":"SALINAS DEL REY","subtitle":"Perfil  12","offset":-48.5,"dx":-6},
   "data":{"name":"p12"},
   "encoding":{
    "x":{"field":"x","type":"quantitative","scale":{"domain":[-58.61,294.88],"nice":false,"zero":false},
     "axis":{"orient":"bottom","offset":-93.7,"labelPadding":5,"values":[0,3,6,9,12,15,18,21,24,27,30,33,36,39,42,45,48,51,54,57,60,63,66,69,72,75,78,81,84,87,90,93,96,99,102,105,108,111,114,117,120,123,126,129,132,135,138,141,144,147,150,153,156,159,162,165,168,171,174,177,180,183,186,189,192,195,198,201,204,207,210,213,216,219,222,225,228,231,234,237,240,243,246,249,252,255,258,261,264,267],"labelExpr":"datum.value % 21 == 0 && datum.value <= 252 ? datum.label : ''","title":"DISTANCIA (m)","titleX":292,"titleY":46}},
    "y":{"field":"y","type":"quantitative","scale":{"domain":[-1864.1,1872.8],"nice":false,"zero":false},
     "axis":{"orient":"left","offset":-96.5,"values":[-600,-400,-200,0,200],"labelExpr":"(datum.value < 0 ? '-' : '') + abs(datum.value)","labelPadding":7,"title":"COTA (cm)","titleX":-56.1,"titleY":154}}
   },
   "layer":[
    {"data":{"values":[{}]},"mark":{"type":"rule","color":"black","strokeWidth":1.5},"encoding":{"x":{"datum":0,"type":"quantitative"},"y":{"datum":-600,"type":"quantitative"},"y2":{"datum":220}}},
    {"data":{"values":[{}]},"mark":{"type":"rule","color":"black","strokeWidth":1.5},"encoding":{"x":{"datum":0,"type":"quantitative"},"x2":{"datum":269},"y":{"datum":-600,"type":"quantitative"}}},
    {"transform":[{"filter":"datum.serie == 'LA'"}],"mark":{"type":"line","color":"black","strokeWidth":2.2}},
    {"transform":[{"filter":"datum.serie == 'FEBRERO/96'"}],"mark":{"type":"line","color":"#c0393b","strokeWidth":1.4},"encoding":{"detail":{"field":"tramo"}}},
    {"transform":[{"filter":"datum.serie == 'AGOSTO/95'"}],"mark":{"type":"line","color":"black","strokeWidth":2},"encoding":{"detail":{"field":"tramo"}}},
    {"transform":[{"filter":"datum.serie == 'SEPTIEMBRE/95'"}],"mark":{"type":"line","color":"#237a33","strokeWidth":2},"encoding":{"detail":{"field":"tramo"}}},
    {"transform":[{"filter":"datum.serie == 'ACRECIMIENTO'"}],"mark":{"type":"square","color":"black","opacity":1,"size":12}},
    {"transform":[{"filter":"datum.serie == 'CB'"}],"mark":{"type":"rule","color":"black","strokeWidth":1.3},"encoding":{"y2":{"field":"y2"}}},
    {"transform":[{"filter":"datum.texto == 'CB'"}],"mark":{"type":"text","font":"Liberation Sans","fontSize":14,"fontWeight":"bold","color":"black"},"encoding":{"text":{"field":"texto"}}},
    {"transform":[{"filter":"datum.texto == 'LA'"}],"mark":{"type":"text","font":"Liberation Sans","fontSize":14,"fontWeight":"bold","color":"black"},"encoding":{"text":{"field":"texto"}}}
   ]},
  {"width":582,"height":278,
   "title":{"text":"FRAY DOMINDO","subtitle":"Perfil  14","offset":-57.5,"dx":1},
   "data":{"name":"p14"},
   "encoding":{
    "x":{"field":"x","type":"quantitative","scale":{"domain":[-25.54,137.64],"nice":false,"zero":false},
     "axis":{"orient":"bottom","offset":-75.3,"values":[0,3,6,9,12,15,18,21,24,27,30,33,36,39,42,45,48,51,54,57,60,63],"labelExpr":"datum.value % 9 == 0 ? datum.label : ''","title":"DISTANCIA (m)","titleX":278.8,"titleY":41.6}},
    "y":{"field":"y","type":"quantitative","scale":{"domain":[-841.2,787.7],"nice":false,"zero":false},
     "axis":{"orient":"left","offset":-91.1,"values":[-400,-300,-200,-100,0,100,200],"labelExpr":"(datum.value < 0 ? '-' : '') + abs(datum.value)","labelPadding":7,"title":"COTA (cm)","titleX":-54.5,"titleY":152.7}}
   },
   "layer":[
    {"data":{"values":[{}]},"mark":{"type":"rule","color":"black","strokeWidth":1.5},"encoding":{"x":{"datum":0,"type":"quantitative"},"y":{"datum":-400,"type":"quantitative"},"y2":{"datum":200}}},
    {"data":{"values":[{}]},"mark":{"type":"rule","color":"black","strokeWidth":1.5},"encoding":{"x":{"datum":0,"type":"quantitative"},"x2":{"datum":131.8},"y":{"datum":-400,"type":"quantitative"}}},
    {"transform":[{"filter":"datum.serie == 'LA'"}],"mark":{"type":"line","color":"black","strokeWidth":1.8}},
    {"transform":[{"filter":"datum.serie == 'FEBRERO/96'"}],"mark":{"type":"line","color":"#333333","strokeWidth":2,"strokeDash":[2,7]},"encoding":{"detail":{"field":"tramo"}}},
    {"transform":[{"filter":"datum.serie == 'SEPTIEMBRE/96'"}],"mark":{"type":"line","color":"#d01f26","strokeWidth":4.5},"encoding":{"detail":{"field":"tramo"}}},
    {"transform":[{"filter":"datum.serie == 'ACRECIMIENTO'"}],"mark":{"type":"square","color":"black","opacity":1,"size":12}},
    {"transform":[{"filter":"datum.serie == 'CB'"}],"mark":{"type":"rule","color":"black","strokeWidth":1.3},"encoding":{"y2":{"field":"y2"}}},
    {"transform":[{"filter":"datum.texto == 'CB'"}],"mark":{"type":"text","font":"Liberation Sans","fontSize":14,"fontWeight":"bold","color":"black"},"encoding":{"text":{"field":"texto"}}},
    {"transform":[{"filter":"datum.texto == 'LA'"}],"mark":{"type":"text","font":"Liberation Sans","fontSize":14,"color":"black"},"encoding":{"text":{"field":"texto"}}}
   ]},
  {"width":582,"height":284,
   "title":{"text":"SAN VICENTE  I","subtitle":"Perfil 16","offset":-52.5,"dx":8},
   "data":{"name":"p16"},
   "encoding":{
    "x":{"field":"x","type":"quantitative","scale":{"domain":[-25.03,151.53],"nice":false,"zero":false},
     "axis":{"orient":"bottom","offset":-82,"values":[0,3,6,9,12,15,18,21,24,27,30,33,36,39,42,45,48,51,54,57,60,63,66,69,72,75,78,81,84,87,90,93,96,99,102,105,108,111,114,117,120,123,126,129,132,135,138,141,144,147,150],"labelExpr":"datum.value % 9 == 0 && datum.value <= 81 ? datum.label : ''","title":"DISTANCIA (m)","titleX":291.4,"titleY":45.7}},
    "y":{"field":"y","type":"quantitative","scale":{"domain":[-1215.1,915.4],"nice":false,"zero":false},
     "axis":{"orient":"left","offset":-82.5,"values":[-600,-400,-200,0,200,400],"labelExpr":"(datum.value < 0 ? '-' : '') + abs(datum.value)","labelPadding":9,"title":"COTA(cm)","titleX":-53.6,"titleY":134.3}}
   },
   "layer":[
    {"data":{"values":[{}]},"mark":{"type":"rule","color":"black","strokeWidth":1.5},"encoding":{"x":{"datum":0,"type":"quantitative"},"y":{"datum":-600,"type":"quantitative"},"y2":{"datum":400}}},
    {"data":{"values":[{}]},"mark":{"type":"rule","color":"black","strokeWidth":1.5},"encoding":{"x":{"datum":0,"type":"quantitative"},"x2":{"datum":150.4},"y":{"datum":-600,"type":"quantitative"}}},
    {"transform":[{"filter":"datum.serie == 'LA'"}],"mark":{"type":"line","color":"black","strokeWidth":1.8}},
    {"transform":[{"filter":"datum.serie == 'FEBRERO/96'"}],"mark":{"type":"line","color":"#222222","strokeWidth":2.5,"strokeDash":[2.5,7]},"encoding":{"detail":{"field":"tramo"}}},
    {"transform":[{"filter":"datum.serie == 'SEPTIEMBRE/96'"}],"mark":{"type":"line","color":"#d01f26","strokeWidth":4.5},"encoding":{"detail":{"field":"tramo"}}},
    {"transform":[{"filter":"datum.serie == 'ACRECIMIENTO'"}],"mark":{"type":"square","color":"black","opacity":1,"size":12}},
    {"transform":[{"filter":"datum.serie == 'CB'"}],"mark":{"type":"rule","color":"black","strokeWidth":1.3},"encoding":{"y2":{"field":"y2"}}},
    {"transform":[{"filter":"datum.texto == 'CB'"}],"mark":{"type":"text","font":"Liberation Sans","fontSize":14,"fontWeight":"bold","color":"black"},"encoding":{"text":{"field":"texto"}}},
    {"transform":[{"filter":"datum.texto == 'LA'"}],"mark":{"type":"text","font":"Liberation Sans","fontSize":14,"color":"black"},"encoding":{"text":{"field":"texto"}}}
   ]}
 ],"spacing":40}
],"spacing":74},
{"width":1241,"height":295,"view":{"stroke":null},
 "data":{"values":[{}]},
 "layer":[
  {"mark":{"type":"rule","color":"black","strokeWidth":2},"encoding":{"x":{"datum":17.89,"type":"quantitative","scale":{"domain":[0,100],"nice":false,"zero":false},"axis":null},"x2":{"datum":22.8},"y":{"datum":41.02,"type":"quantitative","scale":{"domain":[0,100],"nice":false,"zero":false,"reverse":true},"axis":null}}},
  {"mark":{"type":"rule","color":"#ee8080","strokeWidth":7},"encoding":{"x":{"datum":16.2,"type":"quantitative","axis":null},"x2":{"datum":23.61},"y":{"datum":55.59,"type":"quantitative","axis":null}}},
  {"mark":{"type":"rule","color":"black","strokeWidth":2.5,"strokeDash":[20,8]},"encoding":{"x":{"datum":17.5,"type":"quantitative","axis":null},"x2":{"datum":23.3},"y":{"datum":55.59,"type":"quantitative","axis":null}}},
  {"mark":{"type":"rule","color":"#1f8a35","strokeWidth":6},"encoding":{"x":{"datum":63.82,"type":"quantitative","axis":null},"x2":{"datum":69.54},"y":{"datum":36.95,"type":"quantitative","axis":null}}},
  {"mark":{"type":"rule","color":"#cc2229","strokeWidth":6},"encoding":{"x":{"datum":64.14,"type":"quantitative","axis":null},"x2":{"datum":69.06},"y":{"datum":53.9,"type":"quantitative","axis":null}}},
  {"mark":{"type":"rect","fill":"white","stroke":"black","strokeWidth":2},"encoding":{"x":{"datum":24.17,"type":"quantitative","axis":null},"x2":{"datum":34.49},"y":{"datum":65.08,"type":"quantitative","axis":null},"y2":{"datum":73.22}}},
  {"mark":{"type":"rect","fill":"white","stroke":"black","strokeWidth":2},"encoding":{"x":{"datum":24.25,"type":"quantitative","axis":null},"x2":{"datum":34.33},"y":{"datum":77.63,"type":"quantitative","axis":null},"y2":{"datum":85.42}}},
  {"mark":{"type":"text","font":"DejaVu Sans","fontSize":15,"fontWeight":"bold","align":"center","baseline":"middle","color":"black"},"encoding":{"x":{"datum":29.29,"type":"quantitative","axis":null},"y":{"datum":81.2,"type":"quantitative","axis":null},"text":{"value":"·.   :   ·.   ·.   :"}}},
  {"mark":{"type":"text","font":"Liberation Serif","fontSize":21,"fontWeight":"bold","align":"left","baseline":"middle","color":"black"},"encoding":{"x":{"datum":24.66,"type":"quantitative","axis":null},"y":{"datum":40.68,"type":"quantitative","axis":null},"text":{"value":"AGOSTO/95"}}},
  {"mark":{"type":"text","font":"Liberation Serif","fontSize":21,"fontWeight":"bold","align":"left","baseline":"middle","color":"black"},"encoding":{"x":{"datum":24.42,"type":"quantitative","axis":null},"y":{"datum":54.92,"type":"quantitative","axis":null},"text":{"value":"FEBRERO /96"}}},
  {"mark":{"type":"text","font":"Liberation Serif","fontSize":21,"fontWeight":"bold","align":"left","baseline":"middle","color":"black"},"encoding":{"x":{"datum":8.3,"type":"quantitative","axis":null},"y":{"datum":69.49,"type":"quantitative","axis":null},"text":{"value":"EROSION"}}},
  {"mark":{"type":"text","font":"Liberation Serif","fontSize":21,"fontWeight":"bold","align":"left","baseline":"middle","color":"black"},"encoding":{"x":{"datum":8.3,"type":"quantitative","axis":null},"y":{"datum":83.73,"type":"quantitative","axis":null},"text":{"value":"ACRECIMIENTO"}}},
  {"mark":{"type":"text","font":"Liberation Serif","fontSize":21,"fontWeight":"bold","align":"left","baseline":"middle","color":"black"},"encoding":{"x":{"datum":71.07,"type":"quantitative","axis":null},"y":{"datum":36.95,"type":"quantitative","axis":null},"text":{"value":"SEPTIEMBRE/95"}}},
  {"mark":{"type":"text","font":"Liberation Serif","fontSize":21,"fontWeight":"bold","align":"left","baseline":"middle","color":"black"},"encoding":{"x":{"datum":71.07,"type":"quantitative","axis":null},"y":{"datum":52.2,"type":"quantitative","axis":null},"text":{"value":"SEPTIEMBRE/96"}}},
  {"mark":{"type":"text","font":"Liberation Serif","fontSize":21,"fontWeight":"bold","align":"left","baseline":"middle","color":"black"},"encoding":{"x":{"datum":48.75,"type":"quantitative","axis":null},"y":{"datum":81.69,"type":"quantitative","axis":null},"text":{"value":"LIMITE  DE AGUA (LA)"}}},
  {"mark":{"type":"text","font":"Liberation Serif","fontSize":21,"fontWeight":"bold","align":"left","baseline":"middle","color":"black"},"encoding":{"x":{"datum":48.75,"type":"quantitative","axis":null},"y":{"datum":95.0,"type":"quantitative","axis":null},"text":{"value":"CRESTA DE LA BERMA  CB"}}},
  {"mark":{"type":"text","font":"Liberation Serif","fontSize":21,"fontWeight":"bold","align":"left","baseline":"middle","color":"black"},"encoding":{"x":{"datum":83.08,"type":"quantitative","axis":null},"y":{"datum":79.66,"type":"quantitative","axis":null},"text":{"value":"ESCALA GRAFICA"}}}
 ]}
],
"spacing":8
}
